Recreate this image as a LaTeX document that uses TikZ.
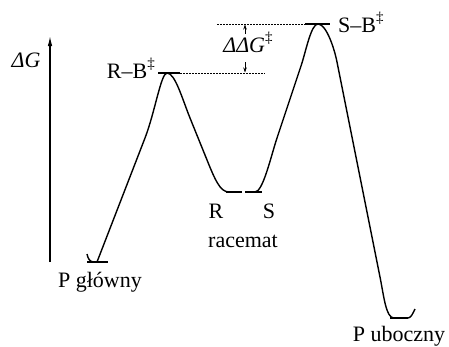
\documentclass[tikz,border=0pt]{standalone}
\usepackage{fontspec}
\setmainfont{Liberation Serif}
\usetikzlibrary{arrows.meta}
\newcommand{\tsmark}{\raisebox{0.42em}{\fontsize{15}{15}\selectfont ‡}}
\tikzset{
  lbl/.style={inner sep=0pt, font=\fontsize{22}{26}\selectfont},
  curve/.style={line width=1.4pt, line join=round},
  level/.style={line width=1.8pt},
  guide/.style={line width=0.7pt, dash pattern=on 2pt off 1pt},
}
\begin{document}
\begin{tikzpicture}[x=1pt, y=-1pt]
  \useasboundingbox (0,0) rectangle (449,346);
  % axis
  \coordinate (ax0) at (50,262);
  \coordinate (ax1) at (50,36);
  \draw[line width=1.2pt,-{Latex[length=10pt,width=4.5pt]}] (ax0) -- (ax1);
  \node[lbl, anchor=base] (dG) at (26,67) {\textit{ΔG}};
  % levels
  \coordinate (pg) at (97,262);
  \coordinate (rb) at (167,73);
  \coordinate (rmin) at (229,192);
  \coordinate (smin) at (255,192);
  \coordinate (sb) at (318,24);
  \coordinate (pu) at (394,318);
  \draw[level] (87,262) -- (108,262);
  \draw[curve] (87,254) .. controls (88,259) and (90,262) .. (94,262);
  \draw[level] (158,73) -- (180,73);
  \draw[level] (226,192) -- (242,192);
  \draw[level] (245,192) -- (262,192);
  \draw[level] (305,24) -- (330,24);
  \draw[level] (390,318) -- (408,318);
  \draw[curve] (408,318) .. controls (411,318) and (413,313) .. (415,309);
  % energy profile
  \draw[curve] (pg) -- (145,138) .. controls (155,112) and (161,73) .. (rb)
    .. controls (175,73) and (182,98) .. (190,118) -- (205,155)
    .. controls (215,180) and (220,192) .. (rmin);
  \draw[curve] (smin) .. controls (263,192) and (271,156) .. (277,138) -- (301,66)
    .. controls (306,51) and (311,24) .. (sb)
    .. controls (326,24) and (334,47) .. (337,62) -- (380,277)
    .. controls (384,297) and (386,318) .. (pu);
  % barrier difference
  \draw[guide] (180,73) -- (265,73);
  \draw[guide] (217,24) -- (305,24);
  \draw[line width=0.7pt,-{Stealth[length=5pt,width=3.5pt]}] (245,34) -- (245,24.5);
  \draw[line width=0.7pt,-{Stealth[length=5pt,width=3.5pt]}] (245,62) -- (245,72.5);
  % labels
  \node[lbl, anchor=base east] (rbl) at (155,78) {R–B\tsmark};
  \node[lbl, anchor=base west] (sbl) at (338,32) {S–B\tsmark};
  \node[lbl, anchor=base] (ddg) at (248,52) {\textit{ΔΔG}\tsmark};
  \node[lbl, anchor=base] (rl) at (216,218) {R};
  \node[lbl, anchor=base] (sl) at (269,218) {S};
  \node[lbl, anchor=base] (rac) at (243,247) {racemat};
  \node[lbl, anchor=base] (pgl) at (100,287) {P główny};
  \node[lbl, anchor=base] (pul) at (399,341) {P uboczny};
\end{tikzpicture}
\end{document}
